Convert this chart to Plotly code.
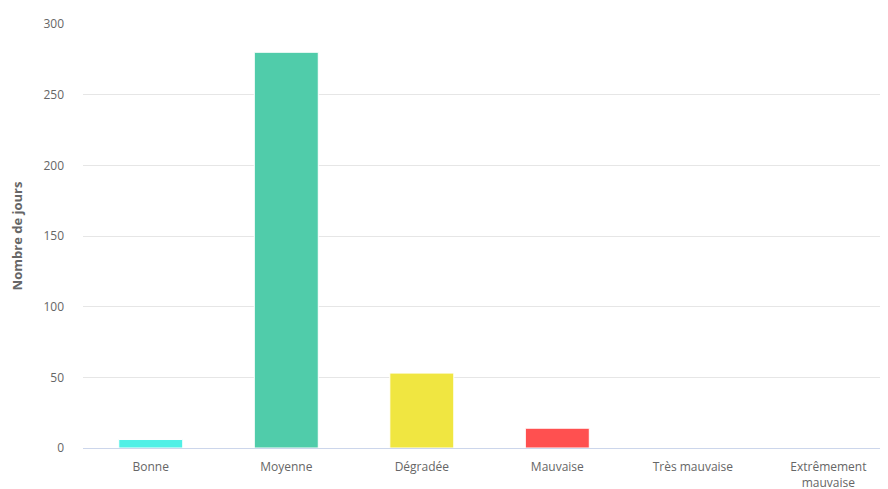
import plotly.graph_objects as go

categories = ["Bonne", "Moyenne", "Dégradée", "Mauvaise", "Très mauvaise", "Extrêmement<br>mauvaise"]
jours = [6, 280, 53, 14, 0, 0]
couleurs = ["#50F0E6", "#50CCAA", "#F0E641", "#FF5050", "#960032", "#872181"]
y_ticks = [0, 50, 100, 150, 200, 250, 300]

fig = go.Figure(go.Bar(
    x=categories, y=jours,
    marker=dict(color=couleurs, line=dict(color="#ffffff", width=1)),
    hovertemplate="%{x}: %{y}<extra></extra>",
))

font_family = "Open Sans, Lato, DejaVu Sans, sans-serif"
# page body has an 8px default margin, so the figure is sized to fit the window
fig.update_layout(
    width=880, height=481,
    margin=dict(l=75, r=0, t=16, b=41, autoexpand=False),
    paper_bgcolor="#ffffff", plot_bgcolor="#ffffff",
    bargap=0.528,
    showlegend=False,
    font=dict(family=font_family, size=12, color="#666666"),
    xaxis=dict(
        range=[-0.5, 5.44],
        showgrid=False, showline=True, linecolor="#ccd6eb", linewidth=1,
        ticks="", tickfont=dict(size=12, color="#666666"),
        automargin=False, ticklabelstandoff=8,
    ),
    yaxis=dict(
        range=[0, 300], tickvals=y_ticks, showgrid=True, gridcolor="#e6e6e6",
        gridwidth=1, zeroline=False, showline=False, ticks="",
        tickfont=dict(size=12, color="#666666"),
        ticklabelstandoff=18, automargin=False,
        title=dict(text="<b>Nombre de jours</b>", font=dict(size=13, color="#666666"), standoff=26),
    ),
)

fig.write_html("out.html")
